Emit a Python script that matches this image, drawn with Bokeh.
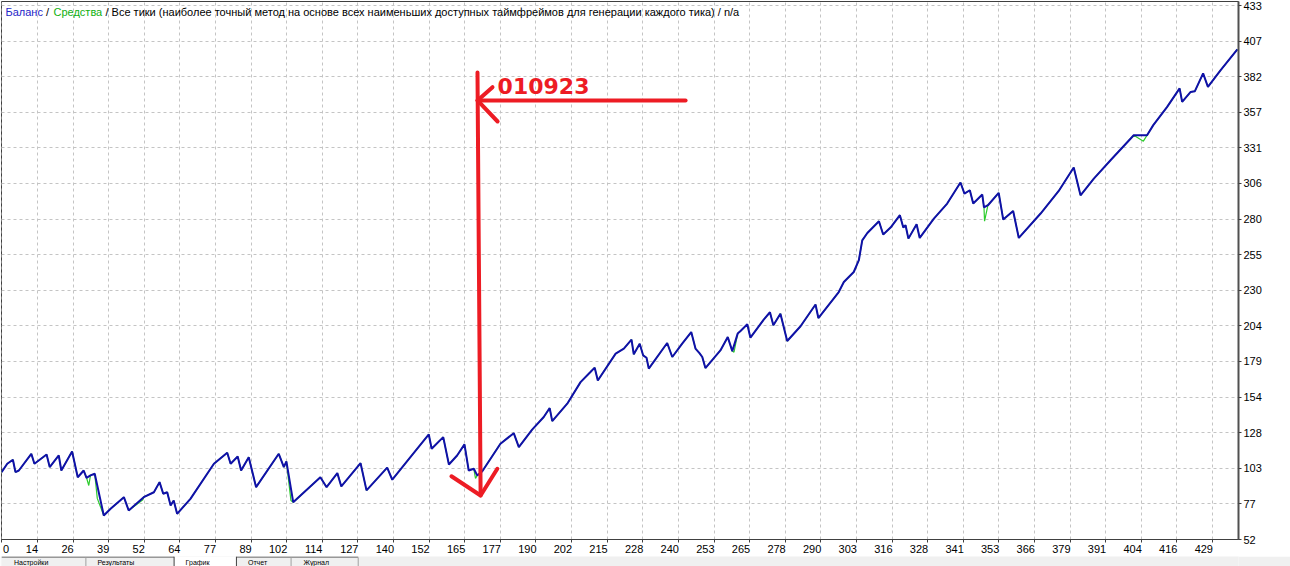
from bokeh.plotting import figure
from bokeh.models import Range1d, FixedTicker, Label
from bokeh.layouts import column
from bokeh.embed import file_html
from bokeh.resources import INLINE

# ---------------- data ----------------
X_TICK_LABELS = [0, 14, 26, 39, 52, 64, 77, 89, 102, 114, 127, 140, 152, 165, 177,
                 190, 202, 215, 228, 240, 253, 265, 278, 290, 303, 316, 328, 341,
                 353, 366, 379, 391, 404, 416, 429]
X_TICK_FIRST = 1.42
X_TICK_STEP = 12.576
Y_TICK_LABELS = [52, 77, 103, 128, 154, 179, 204, 230, 255, 280, 306, 331, 357,
                 382, 407, 433]
Y_TICK_FIRST = 52.0
Y_TICK_STEP = 25.38
X_RANGE = (1.27, 438.2)
Y_RANGE = (52.0, 435.55)

# balance curve (trade number, balance)
BAL_X = [1.3, 3.3, 5.3, 6.2, 7.4, 11.8, 12.9, 17.2, 18.3, 21.5, 22.4, 26.2, 28.2,
         30.3, 31.3, 32.7, 34.2, 37.4, 39.8, 44.5, 46.2, 51.5, 55.1, 57.1, 58.4,
         59.8, 61.0, 62.1, 63.3, 68.0, 76.3, 81.0, 82.2, 84.7, 85.9, 88.6, 91.2,
         99.2, 101.0, 101.9, 104.3, 113.9, 116.1, 119.9, 121.3, 128.1, 130.2,
         137.5, 139.3, 145.7, 152.2, 153.2, 157.3, 159.3, 162.2, 164.8, 166.3,
         168.1, 169.3, 171.1, 177.5, 182.2, 184.0, 188.7, 192.8, 194.9, 195.8,
         201.1, 205.8, 209.3, 210.8, 211.9, 218.2, 221.1, 223.8, 224.6, 226.7,
         227.9, 229.1, 229.9, 236.4, 238.2, 241.7, 244.9, 246.4, 247.8, 248.8,
         249.9, 255.2, 257.8, 259.4, 261.3, 262.3, 264.7, 265.8, 270.5, 272.7,
         273.9, 276.4, 278.8, 283.5, 288.8, 289.8, 297.0, 298.8, 302.3, 304.1,
         305.3, 307.1, 311.2, 312.7, 315.3, 318.6, 319.8, 320.6, 321.6, 324.5,
         325.6, 330.6, 335.3, 340.0, 341.4, 343.3, 344.5, 347.7, 348.3, 349.7,
         353.5, 355.1, 358.6, 360.6, 368.3, 374.7, 380.0, 382.4, 387.1, 393.0,
         401.2, 405.9, 408.1, 413.0, 417.4, 418.3, 421.3, 422.8, 425.7, 427.4,
         431.9, 437.8]
BAL_Y = [100.0, 106.0, 108.9, 100.0, 101.2, 113.1, 106.0, 112.6, 103.6, 111.9,
         101.2, 114.8, 96.4, 101.2, 96.0, 97.7, 98.9, 69.1, 73.9, 82.2, 72.7, 82.2,
         85.7, 92.9, 84.6, 85.7, 76.3, 79.8, 70.3, 81.0, 106.0, 113.9, 106.0,
         111.2, 101.2, 110.7, 89.3, 113.1, 103.6, 107.7, 78.6, 96.4, 89.3, 99.3,
         89.8, 106.4, 87.0, 103.2, 94.6, 110.7, 126.9, 116.7, 125.0, 105.5, 111.9,
         119.8, 101.2, 102.4, 97.7, 100.7, 120.3, 127.8, 117.9, 130.3, 139.3,
         145.7, 136.4, 148.8, 164.2, 171.4, 174.5, 165.4, 184.5, 188.1, 194.5,
         184.0, 191.6, 183.3, 181.6, 173.8, 192.1, 182.1, 191.6, 199.9, 188.1,
         184.9, 182.1, 174.2, 186.8, 196.3, 186.3, 198.8, 200.6, 205.4, 195.9,
         208.7, 214.0, 204.7, 213.0, 193.5, 204.0, 219.5, 209.9, 228.4, 235.6,
         242.7, 251.1, 265.3, 270.5, 278.9, 269.4, 274.4, 283.2, 274.4, 276.0,
         266.5, 276.7, 267.0, 280.8, 291.5, 306.5, 298.6, 301.0, 291.5, 297.9,
         288.7, 290.3, 299.1, 280.1, 286.2, 267.0, 284.4, 300.5, 317.2, 297.4,
         309.3, 322.4, 340.2, 340.2, 347.4, 360.4, 373.6, 364.0, 371.1, 371.6,
         384.3, 374.7, 386.6, 401.4]
# equity differs from balance only at these points (floating drawdowns)
EQ_DIP_X = [32.1, 35.1, 51.2, 103.5, 168.7, 260.0, 348.5, 404.6]
EQ_DIP_Y = [90.5, 81.3, 80.3, 79.8, 95.5, 185.5, 278.9, 336.0]

# annotation drawn over the chart (in trade / balance units)
MARK_TEXT = "010923"
ARROW_V = ([169.4, 170.5], [384.9, 83.4])
ARROW_V_HEAD = ([160.2, 170.5, 176.4], [97.1, 83.4, 102.4])
ARROW_H = ([242.9, 169.4], [365.0, 365.0])
ARROW_H_HEAD = ([174.7, 169.4, 176.5], [374.5, 365.0, 350.0])
MARK_POS = (176.5, 375.0)

TITLE_PARTS = [("Баланс", "#2525c8", 5),
               ("/", "#000000", 45.5),
               ("Средства", "#10b010", 53),
               ("/ Все тики (наиболее точный метод на основе всех наименьших доступных "
                "таймфреймов для генерации каждого тика) / n/a", "#000000", 105)]

TAB_NAMES = ["Настройки", "Результаты", "График", "Отчет", "Журнал"]
TAB_TEXT_X = [13, 100, 192, 257, 315]

# ---------------- layout constants ----------------
W, H_MAIN, H_TABS = 1290, 555, 11
FL, FT, FR, FB = 1, 1, 1238, 539  # frame edges in canvas px
FONT = "Liberation Sans"

xpp = (X_RANGE[1] - X_RANGE[0]) / (FR - FL)
ypp = (Y_RANGE[1] - Y_RANGE[0]) / (FB - FT)


def sx(px):
    return X_RANGE[0] + (px - FL) * xpp


def sy(py):
    return Y_RANGE[0] + (FB - py) * ypp


p = figure(width=W, height=H_MAIN, x_range=Range1d(*X_RANGE), y_range=Range1d(*Y_RANGE),
           output_backend="svg", toolbar_location=None, y_axis_location="right",
           min_border_left=FL, min_border_top=FT, min_border_right=W - FR,
           min_border_bottom=H_MAIN - FB)
p.outline_line_color = "#404040"
p.outline_line_width = 1
p.background_fill_color = "#ffffff"
p.border_fill_color = "#ffffff"

grid_x = [X_TICK_FIRST + X_TICK_STEP * k for k in range(len(X_TICK_LABELS))]
label_x = []
for k, (g, lab) in enumerate(zip(grid_x, X_TICK_LABELS)):
    n = len(str(lab))
    if k == 0:
        label_x.append(round(sx(5.5), 4))
    else:
        label_x.append(round(g + (0.5 - n * 3.05) / 2.831, 4))

p.xaxis.ticker = FixedTicker(ticks=label_x, minor_ticks=grid_x)
p.xaxis.major_label_overrides = {lx: str(l) for lx, l in zip(label_x, X_TICK_LABELS)}
p.xaxis.major_tick_line_color = None
p.xaxis.major_tick_out = 0
p.xaxis.major_tick_in = 0
p.xaxis.minor_tick_line_color = "#404040"
p.xaxis.minor_tick_out = 3
p.xaxis.minor_tick_in = 0
p.xaxis.major_label_standoff = 2
p.xaxis.axis_line_color = "#404040"

y_ticks = [round(Y_TICK_FIRST + Y_TICK_STEP * k, 4) for k in range(len(Y_TICK_LABELS))]
p.yaxis.ticker = FixedTicker(ticks=y_ticks)
p.yaxis.major_label_overrides = {t: str(l) for t, l in zip(y_ticks, Y_TICK_LABELS)}
p.yaxis.major_tick_out = 3
p.yaxis.major_tick_in = 0
p.yaxis.minor_tick_line_color = None
p.yaxis.major_label_standoff = 2
p.yaxis.axis_line_color = "#505050"
p.yaxis.axis_line_width = 2
p.yaxis.major_tick_line_color = "#404040"

for ax in (p.xaxis, p.yaxis):
    ax.major_label_text_font = FONT
    ax.major_label_text_font_size = "11px"
    ax.major_label_text_color = "#000000"

p.xgrid.ticker = FixedTicker(ticks=grid_x)
for g in (p.xgrid, p.ygrid):
    g.grid_line_color = "#c4c4c4"
    g.grid_line_dash = "3 3"
    g.grid_line_width = 1

# equity (green) below balance (blue)
eq = sorted(zip(BAL_X + EQ_DIP_X, BAL_Y + EQ_DIP_Y))
p.line([a for a, _ in eq], [b for _, b in eq], line_color="#2ccc2c", line_width=1.2)
p.line(BAL_X, BAL_Y, line_color="#1010a8", line_width=2)

# title parts
for txt, col, px in TITLE_PARTS:
    p.add_layout(Label(x=sx(px), y=sy(11.5), text=txt, text_color=col,
                       text_font=FONT, text_font_size="11px",
                       text_baseline="middle", text_align="left"))

# red hand-drawn annotation
RED = "#ed1c24"
for xs, ys in (ARROW_V, ARROW_V_HEAD, ARROW_H, ARROW_H_HEAD):
    p.line(xs, ys, line_color=RED, line_width=4, line_cap="round", line_join="round")
p.add_layout(Label(x=MARK_POS[0], y=MARK_POS[1], text=MARK_TEXT, text_color=RED,
                   text_font="DejaVu Sans", text_font_size="22px",
                   text_font_style="bold", text_baseline="alphabetic"))

# tab strip of the tester window under the chart (canvas px 555..566)
t = figure(width=W, height=H_TABS, x_range=Range1d(0, W), y_range=Range1d(H_TABS, 0),
           output_backend="svg", toolbar_location=None, min_border=0)
t.axis.visible = False
t.grid.visible = False
t.outline_line_color = None
t.background_fill_color = "#f0f0f0"
t.border_fill_color = "#f0f0f0"
t.quad(left=[180], right=[245], top=[0], bottom=[H_TABS], fill_color="#ffffff",
       line_color=None)
t.multi_line(xs=[[0, 180], [245, 372], [180, 180], [245, 245], [88, 88], [302, 302], [372, 372]],
             ys=[[0.5, 0.5], [0.5, 0.5], [0, 11], [0, 11], [1, 11], [1, 11], [1, 11]],
             line_color=["#404040", "#404040", "#404040", "#404040", "#a0a0a0", "#a0a0a0", "#a0a0a0"],
             line_width=1)
for name, tx in zip(TAB_NAMES, TAB_TEXT_X):
    t.add_layout(Label(x=tx, y=5.8, text=name, text_font=FONT, text_font_size="7px",
                       text_color="#000000", text_baseline="middle"))

layout = column(p, t, spacing=0)
open("out.html", "w").write(file_html(layout, INLINE))
